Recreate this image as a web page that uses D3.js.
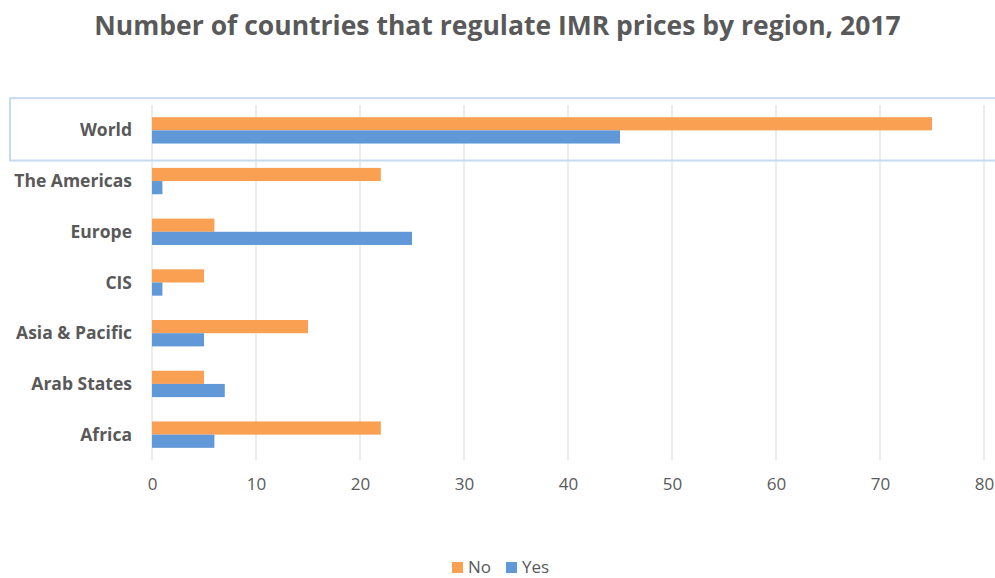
<!DOCTYPE html>
<html>
<head>
<meta charset="utf-8">
<script src="https://cdn.jsdelivr.net/npm/d3@7"></script>
<style>
  body { margin: 0; background: #fff; }
  text { font-family: "Open Sans", sans-serif; }
</style>
</head>
<body>
<div id="chart"></div>
<script>
// data
var regions = ["World", "The Americas", "Europe", "CIS", "Asia & Pacific", "Arab States", "Africa"];
var noValues = [75, 22, 6, 5, 15, 5, 22];
var yesValues = [45, 1, 25, 1, 5, 7, 6];
var xTicks = [0, 10, 20, 30, 40, 50, 60, 70, 80];
var seriesNames = ["No", "Yes"];
var colors = ["#f9a053", "#6198d8"];

var width = 995,
    height = 578;

var svg = d3.select("#chart").append("svg")
    .attr("width", width)
    .attr("height", height);

var margin = { left: 152, right: 11, top: 105, bottom: 118 };

var x = d3.scaleLinear()
    .domain([0, 80])
    .range([margin.left, width - margin.right]);

var y = d3.scaleBand()
    .domain(regions)
    .range([margin.top, height - margin.bottom])
    .paddingInner(0.48)
    .paddingOuter(0.24);

// title
svg.append("text")
    .attr("x", width / 2)
    .attr("y", 35)
    .attr("text-anchor", "middle")
    .attr("font-size", 26.5)
    .attr("font-weight", "bold")
    .attr("fill", "#595959")
    .text("Number of countries that regulate IMR prices by region, 2017");

// gridlines
svg.append("g")
    .selectAll("line")
    .data(xTicks)
    .enter().append("line")
    .attr("x1", function (d) { return x(d); })
    .attr("x2", function (d) { return x(d); })
    .attr("y1", margin.top)
    .attr("y2", height - margin.bottom)
    .attr("stroke", "#d9d9d9")
    .attr("stroke-width", 1);

// x axis labels
var xAxis = d3.axisBottom(x).tickValues(xTicks).tickSize(0).tickPadding(0);
var ax = svg.append("g")
    .attr("transform", "translate(0," + (height - margin.bottom + 18) + ")")
    .call(xAxis);
ax.select(".domain").remove();
ax.selectAll("text")
    .attr("font-size", 17)
    .attr("fill", "#595959")
    .attr("dy", "0.71em");

// category labels
svg.append("g")
    .selectAll("text")
    .data(regions)
    .enter().append("text")
    .attr("x", margin.left - 20)
    .attr("y", function (d) { return y(d) + y.bandwidth() / 2; })
    .attr("dy", "0.35em")
    .attr("text-anchor", "end")
    .attr("font-size", 17.5)
    .attr("font-weight", "bold")
    .attr("fill", "#595959")
    .text(function (d) { return d; });

// bars
var sub = d3.scaleBand().domain(seriesNames).range([0, y.bandwidth()]);
var barData = [];
regions.forEach(function (r, i) {
    barData.push({ region: r, series: "No", value: noValues[i] });
    barData.push({ region: r, series: "Yes", value: yesValues[i] });
});

svg.append("g")
    .selectAll("rect")
    .data(barData)
    .enter().append("rect")
    .attr("x", x(0))
    .attr("y", function (d) { return y(d.region) + sub(d.series); })
    .attr("width", function (d) { return x(d.value) - x(0); })
    .attr("height", sub.bandwidth())
    .attr("fill", function (d) { return colors[seriesNames.indexOf(d.series)]; });

// highlight box around World
svg.append("rect")
    .attr("x", 10)
    .attr("y", y("World") - 19)
    .attr("width", width)
    .attr("height", y.bandwidth() + 36)
    .attr("fill", "none")
    .attr("stroke", "#c6daf0")
    .attr("stroke-width", 2);

// legend
var legend = svg.append("g")
    .selectAll("g")
    .data(seriesNames)
    .enter().append("g")
    .attr("transform", function (d, i) { return "translate(" + (452 + i * 54) + ",562)"; });
legend.append("rect")
    .attr("width", 11)
    .attr("height", 11)
    .attr("fill", function (d, i) { return colors[i]; });
legend.append("text")
    .attr("x", 16)
    .attr("y", 5)
    .attr("dy", "0.35em")
    .attr("font-size", 17)
    .attr("fill", "#595959")
    .text(function (d) { return d; });
</script>
</body>
</html>
